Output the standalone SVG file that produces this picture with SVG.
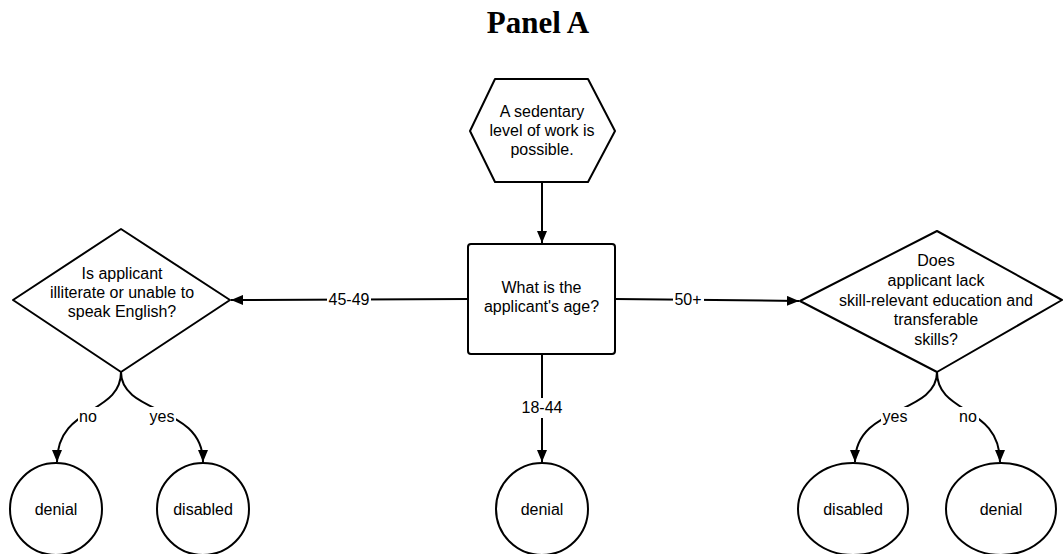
<svg xmlns="http://www.w3.org/2000/svg" width="1063" height="554" viewBox="0 0 1063 554">
  <style>
    .shape { fill: #ffffff; stroke: #000000; stroke-width: 2; stroke-linejoin: round; }
    .edge { fill: none; stroke: #000000; stroke-width: 2; }
    .txt { font-family: "Liberation Sans", Arial, sans-serif; font-size: 16px; fill: #000000; text-anchor: middle; }
    .lbl-bg { fill: #ffffff; stroke: none; }
    .title { font-family: "Liberation Serif", "Times New Roman", serif; font-size: 31px; font-weight: bold; fill: #000000; text-anchor: middle; }
  </style>
  <defs>
    <marker id="arrow" markerUnits="userSpaceOnUse" markerWidth="13" markerHeight="10" refX="12" refY="5" orient="auto">
      <path d="M0,0 L12,5 L0,10 Z" fill="#000000"/>
    </marker>
  </defs>

  <rect width="1063" height="554" fill="#ffffff"/>

  <text class="title" x="538" y="33">Panel A</text>

  <!-- connectors -->
  <g id="connectors">
    <path class="edge" d="M542,182 L542,243" marker-end="url(#arrow)"/>
    <path class="edge" d="M468,299 L231,300" marker-end="url(#arrow)"/>
    <path class="edge" d="M615,299 L799,301" marker-end="url(#arrow)"/>
    <path class="edge" d="M542,354 L542,462" marker-end="url(#arrow)"/>
    <path class="edge" d="M121,372 C121,415 57,405 57,462" marker-end="url(#arrow)"/>
    <path class="edge" d="M121,372 C121,415 203,405 203,462" marker-end="url(#arrow)"/>
    <path class="edge" d="M937,372 C937,415 855,405 855,462" marker-end="url(#arrow)"/>
    <path class="edge" d="M937,372 C937,415 1000,405 1000,462" marker-end="url(#arrow)"/>

    <rect class="lbl-bg" x="327" y="290" width="44" height="20"/>
    <text class="txt" x="349" y="305">45-49</text>
    <rect class="lbl-bg" x="673" y="290" width="31" height="20"/>
    <text class="txt" x="688" y="305">50+</text>
    <rect class="lbl-bg" x="520" y="398" width="44" height="20"/>
    <text class="txt" x="542" y="413">18-44</text>
    <rect class="lbl-bg" x="78" y="407" width="21" height="20"/>
    <text class="txt" x="88" y="422">no</text>
    <rect class="lbl-bg" x="148" y="407" width="28" height="20"/>
    <text class="txt" x="162" y="422">yes</text>
    <rect class="lbl-bg" x="881" y="407" width="28" height="20"/>
    <text class="txt" x="895" y="422">yes</text>
    <rect class="lbl-bg" x="958" y="407" width="21" height="20"/>
    <text class="txt" x="968" y="422">no</text>
  </g>

  <!-- start: sedentary work -->
  <g id="node-start">
    <polygon class="shape" points="495,79 588,79 615,131 588,182 495,182 470,131"/>
    <text class="txt" x="542" y="117">A sedentary</text>
    <text class="txt" x="542" y="136">level of work is</text>
    <text class="txt" x="542" y="155">possible.</text>
  </g>

  <!-- age question -->
  <g id="node-age">
    <rect class="shape" x="468" y="244" width="147" height="110" rx="3" ry="3"/>
    <text class="txt" x="541.5" y="293">What is the</text>
    <text class="txt" x="541.5" y="312">applicant's age?</text>
  </g>

  <!-- 45-49 decision -->
  <g id="node-literacy">
    <polygon class="shape" points="13,300 121,229 230,300 121,372"/>
    <text class="txt" x="122" y="279">Is applicant</text>
    <text class="txt" x="122" y="298">illiterate or unable to</text>
    <text class="txt" x="122" y="317">speak English?</text>
  </g>

  <!-- 50+ decision -->
  <g id="node-skills">
    <polygon class="shape" points="800,301 937,231 1062,300 937,372"/>
    <text class="txt" x="936" y="266">Does</text>
    <text class="txt" x="936" y="286">applicant lack</text>
    <text class="txt" x="936" y="305.5">skill-relevant education and</text>
    <text class="txt" x="936" y="325">transferable</text>
    <text class="txt" x="936" y="344.5">skills?</text>
  </g>

  <!-- outcomes -->
  <g id="node-denial-left">
    <ellipse class="shape" cx="56" cy="509" rx="46" ry="46"/>
    <text class="txt" x="56" y="515">denial</text>
  </g>
  <g id="node-disabled-left">
    <ellipse class="shape" cx="203" cy="509" rx="46" ry="46"/>
    <text class="txt" x="203" y="515">disabled</text>
  </g>
  <g id="node-denial-center">
    <ellipse class="shape" cx="542" cy="509" rx="46" ry="46"/>
    <text class="txt" x="542" y="515">denial</text>
  </g>
  <g id="node-disabled-right">
    <ellipse class="shape" cx="853" cy="509" rx="55" ry="46"/>
    <text class="txt" x="853" y="515">disabled</text>
  </g>
  <g id="node-denial-right">
    <ellipse class="shape" cx="1001" cy="509" rx="55" ry="46"/>
    <text class="txt" x="1001" y="515">denial</text>
  </g>
</svg>
